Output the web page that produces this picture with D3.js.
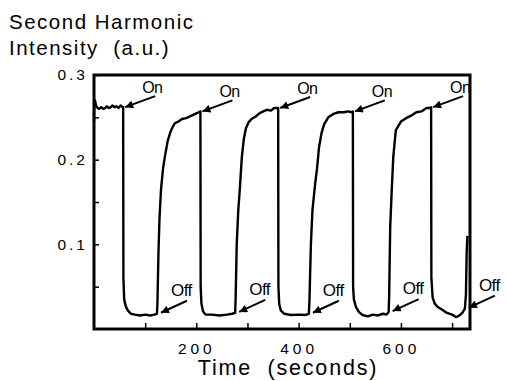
<!DOCTYPE html>
<html>
<head>
<meta charset="utf-8">
<script src="https://cdn.jsdelivr.net/npm/d3@7"></script>
<style>
  html, body { margin: 0; padding: 0; background: #fff; }
  svg { display: block; }
  text { font-family: "Liberation Sans", Arial, Helvetica, sans-serif; fill: #000; }
</style>
</head>
<body>
<svg id="chart" width="506" height="381"></svg>
<script>
// Time (s) and second harmonic intensity (a.u.) of the switched film
const time = [
  0, 0.5, 2, 4, 7, 10, 14, 18, 22, 25, 29, 33, 36, 40, 44, 48, 52, 56, 57,
  57.5, 59, 62, 66, 72, 80, 90, 100, 110, 118, 123,
  124, 126, 128, 131, 135, 139, 144, 149, 154, 158, 165, 172, 180, 187, 194, 201, 205, 208,
  208.5, 210, 213, 218, 230, 245, 260, 270, 276,
  277, 279, 282, 285, 289, 293, 297, 302, 308, 316, 324, 331, 338, 346, 352, 358, 360,
  360.5, 362, 365, 372, 385, 400, 412, 420,
  421, 424, 427, 432, 436, 440, 445, 450, 458, 468, 478, 488, 497, 504, 506,
  506.5, 508, 512, 518, 525, 535, 545, 555, 565, 572, 576,
  577, 579, 582, 585, 590, 600, 610, 620, 630, 640, 650, 658, 659,
  659.5, 662, 666, 672, 680, 690, 700, 708, 714, 720, 725,
  727, 728.5, 730
];
const intensity = [
  0.245, 0.268, 0.270, 0.264, 0.261, 0.260, 0.262, 0.260, 0.261, 0.263, 0.261, 0.262, 0.264, 0.262, 0.263, 0.261, 0.264, 0.262, 0.262,
  0.060, 0.035, 0.027, 0.022, 0.018, 0.017, 0.016, 0.017, 0.016, 0.017, 0.018,
  0.030, 0.090, 0.130, 0.165, 0.190, 0.205, 0.222, 0.232, 0.239, 0.243, 0.245, 0.248, 0.249, 0.251, 0.253, 0.255, 0.256, 0.257,
  0.050, 0.030, 0.021, 0.017, 0.017, 0.016, 0.017, 0.018, 0.019,
  0.040, 0.100, 0.140, 0.165, 0.203, 0.225, 0.237, 0.244, 0.248, 0.251, 0.255, 0.257, 0.259, 0.258, 0.261, 0.261, 0.261,
  0.050, 0.030, 0.022, 0.018, 0.0165, 0.017, 0.0165, 0.018,
  0.030, 0.100, 0.140, 0.170, 0.190, 0.215, 0.232, 0.242, 0.250, 0.254, 0.256, 0.256, 0.257, 0.256, 0.257,
  0.050, 0.035, 0.026, 0.020, 0.0165, 0.015, 0.017, 0.016, 0.018, 0.017, 0.020,
  0.040, 0.120, 0.164, 0.203, 0.235, 0.245, 0.249, 0.252, 0.256, 0.257, 0.261, 0.261, 0.262,
  0.060, 0.037, 0.030, 0.026, 0.023, 0.019, 0.017, 0.014, 0.016, 0.019, 0.024,
  0.040, 0.090, 0.110
];

// Field switched on (signal falls) and off (signal recovers)
const onTimes  = [57, 208, 360, 506, 659];
const offTimes = [123, 276, 420, 576, 725];

const yTicks = [0.05, 0.1, 0.15, 0.2, 0.25, 0.3];
const yTickLabels = ["", "0.1", "", "0.2", "", "0.3"];
const xTicks = [100, 200, 300, 400, 500, 600, 700];
const xTickLabels = ["", "200", "", "400", "", "600", ""];

const svg = d3.select("#chart");
const margin = { left: 94, right: 36, top: 75, bottom: 52 };
const W = 506, H = 381;

const x = d3.scaleLinear().domain([0, 735]).range([margin.left, W - margin.right]);
const y = d3.scaleLinear().domain([0, 0.3]).range([H - margin.bottom, margin.top]);

const points = time.map((t, i) => [t, intensity[i]]);
const valueAt = t => {
  const i = d3.bisector(d => d[0]).left(points, t);
  return points[Math.min(i, points.length - 1)][1];
};

// Axis titles
svg.append("text").attr("x", 9).attr("y", 29)
  .style("font-size", "20.5px").style("letter-spacing", "1.5px")
  .text("Second Harmonic");
svg.append("text").attr("x", 9).attr("y", 55)
  .style("font-size", "20.5px").style("letter-spacing", "1.5px")
  .style("white-space", "pre")
  .text("Intensity  (a.u.)");
svg.append("text").attr("x", 288).attr("y", 375)
  .attr("text-anchor", "middle")
  .style("font-size", "21.5px").style("letter-spacing", "1.8px")
  .style("white-space", "pre")
  .text("Time  (seconds)");

// Trace
const line = d3.line().x(d => x(d[0])).y(d => y(d[1])).curve(d3.curveLinear);
svg.append("path").datum(points)
  .attr("d", line)
  .attr("fill", "none")
  .attr("stroke", "#000")
  .attr("stroke-width", 2.4)
  .attr("stroke-linejoin", "round");

// Axes with inward ticks
const yAxis = d3.axisLeft(y).tickValues(yTicks).tickSize(-5).tickPadding(6)
  .tickFormat((d, i) => yTickLabels[i]);
const gy = svg.append("g").attr("transform", `translate(${margin.left},0)`).call(yAxis);
gy.select(".domain").remove();
gy.selectAll("line").attr("stroke", "#000").attr("stroke-width", 1.5);
gy.selectAll("text")
  .style("font-size", "15.5px").style("letter-spacing", "3px")
  .style("font-family", "'Liberation Sans', Arial, sans-serif");

const xAxis = d3.axisBottom(x).tickValues(xTicks).tickSize(-6).tickPadding(14)
  .tickFormat((d, i) => xTickLabels[i]);
const gx = svg.append("g").attr("transform", `translate(0,${H - margin.bottom})`).call(xAxis);
gx.select(".domain").remove();
gx.selectAll("line").attr("stroke", "#000").attr("stroke-width", 1.5);
gx.selectAll("text")
  .style("font-size", "15.5px").style("letter-spacing", "4px")
  .style("font-family", "'Liberation Sans', Arial, sans-serif");

// Frame
svg.append("rect")
  .attr("x", margin.left).attr("y", margin.top)
  .attr("width", W - margin.right - margin.left)
  .attr("height", H - margin.bottom - margin.top)
  .attr("fill", "none").attr("stroke", "#000").attr("stroke-width", 3);

// Arrow annotations
svg.append("defs").append("marker")
  .attr("id", "head").attr("viewBox", "0 0 10 10")
  .attr("refX", 10).attr("refY", 5)
  .attr("markerWidth", 10).attr("markerHeight", 8)
  .attr("markerUnits", "userSpaceOnUse")
  .attr("orient", "auto")
  .append("path").attr("d", "M0,0 L10,5 L0,10 Z").attr("fill", "#000");

const ann = svg.append("g");
onTimes.forEach(t => {
  const tx = x(t) + 2, ty = y(valueAt(t));
  ann.append("line")
    .attr("x1", tx + 30).attr("y1", ty - 11)
    .attr("x2", tx).attr("y2", ty)
    .attr("stroke", "#000").attr("stroke-width", 2)
    .attr("marker-end", "url(#head)");
  ann.append("text").attr("x", tx + 17).attr("y", ty - 14)
    .style("font-size", "16px").style("letter-spacing", "-0.5px")
    .text("On");
});
offTimes.forEach(t => {
  const tx = x(t) + 4, ty = y(valueAt(t)) - 1;
  ann.append("line")
    .attr("x1", tx + 26).attr("y1", ty - 12)
    .attr("x2", tx).attr("y2", ty)
    .attr("stroke", "#000").attr("stroke-width", 2)
    .attr("marker-end", "url(#head)");
  ann.append("text").attr("x", tx + 10).attr("y", ty - 17)
    .style("font-size", "17px").style("letter-spacing", "-0.5px")
    .text("Off");
});
</script>
</body>
</html>
